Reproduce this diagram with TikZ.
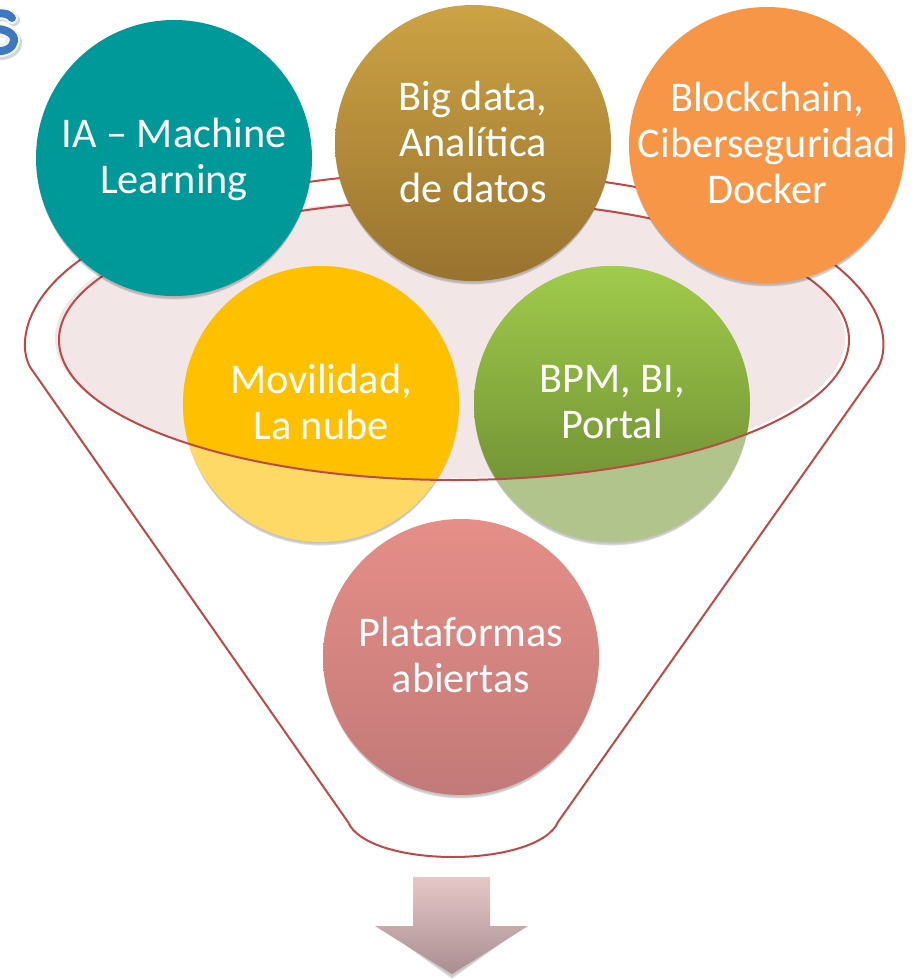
\documentclass[tikz,border=0pt]{standalone}
\usepackage{fontspec}
\setmainfont{Carlito}
\definecolor{lineRed}{HTML}{BC4A48}
\definecolor{paleFill}{HTML}{F2E6E7}
\definecolor{teal1}{HTML}{009999}
\definecolor{orange1}{HTML}{F79646}
\definecolor{gold1}{HTML}{FFC000}
\definecolor{goldPale}{HTML}{FFD966}
\definecolor{greenPale}{HTML}{B1C48B}
\definecolor{greenTop}{HTML}{A0CB4B}
\definecolor{greenBot}{HTML}{688530}
\definecolor{brownTop}{HTML}{CCA344}
\definecolor{brownBot}{HTML}{99732F}
\definecolor{roseTop}{HTML}{E68E88}
\definecolor{roseBot}{HTML}{C27A78}
\definecolor{arrowTop}{HTML}{E6C8C9}
\definecolor{arrowBot}{HTML}{A98D90}
\definecolor{sBlue}{HTML}{3F78BE}
\tikzset{
  x=0.75pt,y=-0.75pt,
  disc/.style={circle,minimum size=207pt,inner sep=0pt,outer sep=0pt},
  label txt/.style={text=white,align=center,font=\fontsize{31.7}{34.5}\selectfont},
  funnel line/.style={draw=lineRed,line width=1.5pt,line join=round},
  shadow disc/.style={circle,inner sep=0pt,fill=black,opacity=0.05},
}
\newcommand{\softshadow}[1]{%
  \foreach \d/\w in {1/0,2/-0.5,3/-1.5,4/-3,5/-4.5}{%
    \node[shadow disc,minimum size=207pt+\w pt] at ([yshift=-\d pt]#1) {};
  }}
\begin{document}
\begin{tikzpicture}
\useasboundingbox (0,0) rectangle (921,979);
\fill[white] (0,0) rectangle (921,979);

% fragment of the title letter at top left
\begin{scope}
  \clip (0,0) rectangle (921,979);
  \draw[black!35,line width=9pt,line cap=round,opacity=.45]
    (-4,16) .. controls (6,14) and (12,17) .. (14,20);
  \draw[black!35,line width=9pt,line cap=round,opacity=.45]
    (-4,31) .. controls (8,31) and (17,37) .. (16,44) .. controls (15,51) and (6,55) .. (-4,54);
  \draw[white!92!gray,line width=9pt,line cap=round]
    (-4,14) .. controls (5,12) and (10,15) .. (12,18);
  \draw[white!92!gray,line width=9pt,line cap=round]
    (-4,29) .. controls (6,29) and (15,34) .. (14,41) .. controls (13,48) and (5,52) .. (-4,51);
  \draw[sBlue,line width=6pt,line cap=round]
    (-4,14) .. controls (5,12) and (10,15) .. (12,18);
  \draw[sBlue,line width=6pt,line cap=round]
    (-4,29) .. controls (6,29) and (15,34) .. (14,41) .. controls (13,48) and (5,52) .. (-4,51);
  \draw[white!90!sBlue,line width=1.5pt]
    (-2,36) .. controls (4,35) and (8,39) .. (6,42) .. controls (4,45) and (0,45) .. (-2,44);
\end{scope}

% funnel: pale fill and outer outline
\fill[paleFill] (450,338) ellipse [x radius=395,y radius=140];
\coordinate (fL) at (30,367);
\coordinate (fR) at (878,368);
\coordinate (nL) at (348,822);
\coordinate (nR) at (558,822);
\draw[funnel line]
  (fL) .. controls (18,345) and (24,300) .. (80,260)
  .. controls (150,205) and (300,172) .. (454,172)
  .. controls (620,172) and (760,205) .. (835,265)
  .. controls (885,305) and (890,345) .. (fR)
  -- (nR) .. controls (548,845) and (500,857) .. (453,857)
  .. controls (405,857) and (358,845) .. (nL) -- cycle;

% lower circles: pale below the ellipse, full colour inside it
\softshadow{321,404}
\node[disc,fill=goldPale] (movBase) at (321,404) {};
\softshadow{612,404}
\node[disc,fill=greenPale] (bpmBase) at (612,404) {};
\begin{scope}
  \clip (454,340) ellipse [x radius=395,y radius=140];
  \node[disc,fill=gold1] (movFull) at (321,404) {};
  \node[disc,top color=greenTop,bottom color=greenBot] (bpmFull) at (612,404) {};
\end{scope}
\draw[funnel line] (454,340) ellipse [x radius=395,y radius=140];

% upper and bottom circles
\softshadow{174,158}
\node[disc,fill=teal1] (ia) at (174,158) {};
\softshadow{473,143}
\node[disc,top color=brownTop,bottom color=brownBot] (big) at (473,143) {};
\softshadow{767,145}
\node[disc,fill=orange1] (block) at (767,145) {};
\softshadow{461,657}
\node[disc,top color=roseTop,bottom color=roseBot] (plat) at (461,657) {};

% labels
\node[label txt] (tIa) at (174,159) {IA – Machine\\Learning};
\node[label txt] (tBig) at (473,142) {Big data,\\Analítica\\de datos};
\node[label txt] (tBlock) at (767,143) {Blockchain,\\Ciberseguridad\\Docker};
\node[label txt] (tMov) at (321,402) {Movilidad,\\La nube};
\node[label txt] (tBpm) at (612,402) {BPM, BI,\\Portal};
\node[label txt] (tPlat) at (461,655) {Plataformas\\abiertas};

% arrow
\fill[black,opacity=.10] (380,928) -- (452,977) -- (524,928) -- cycle;
\fill[black,opacity=.12] (385,930) -- (452,979) -- (519,930) -- cycle;
\path[top color=arrowTop,bottom color=arrowBot]
  (413,877) -- (490,877) -- (490,926) -- (528,926) -- (452,974) -- (375,926) -- (413,926) -- cycle;
\end{tikzpicture}
\end{document}
